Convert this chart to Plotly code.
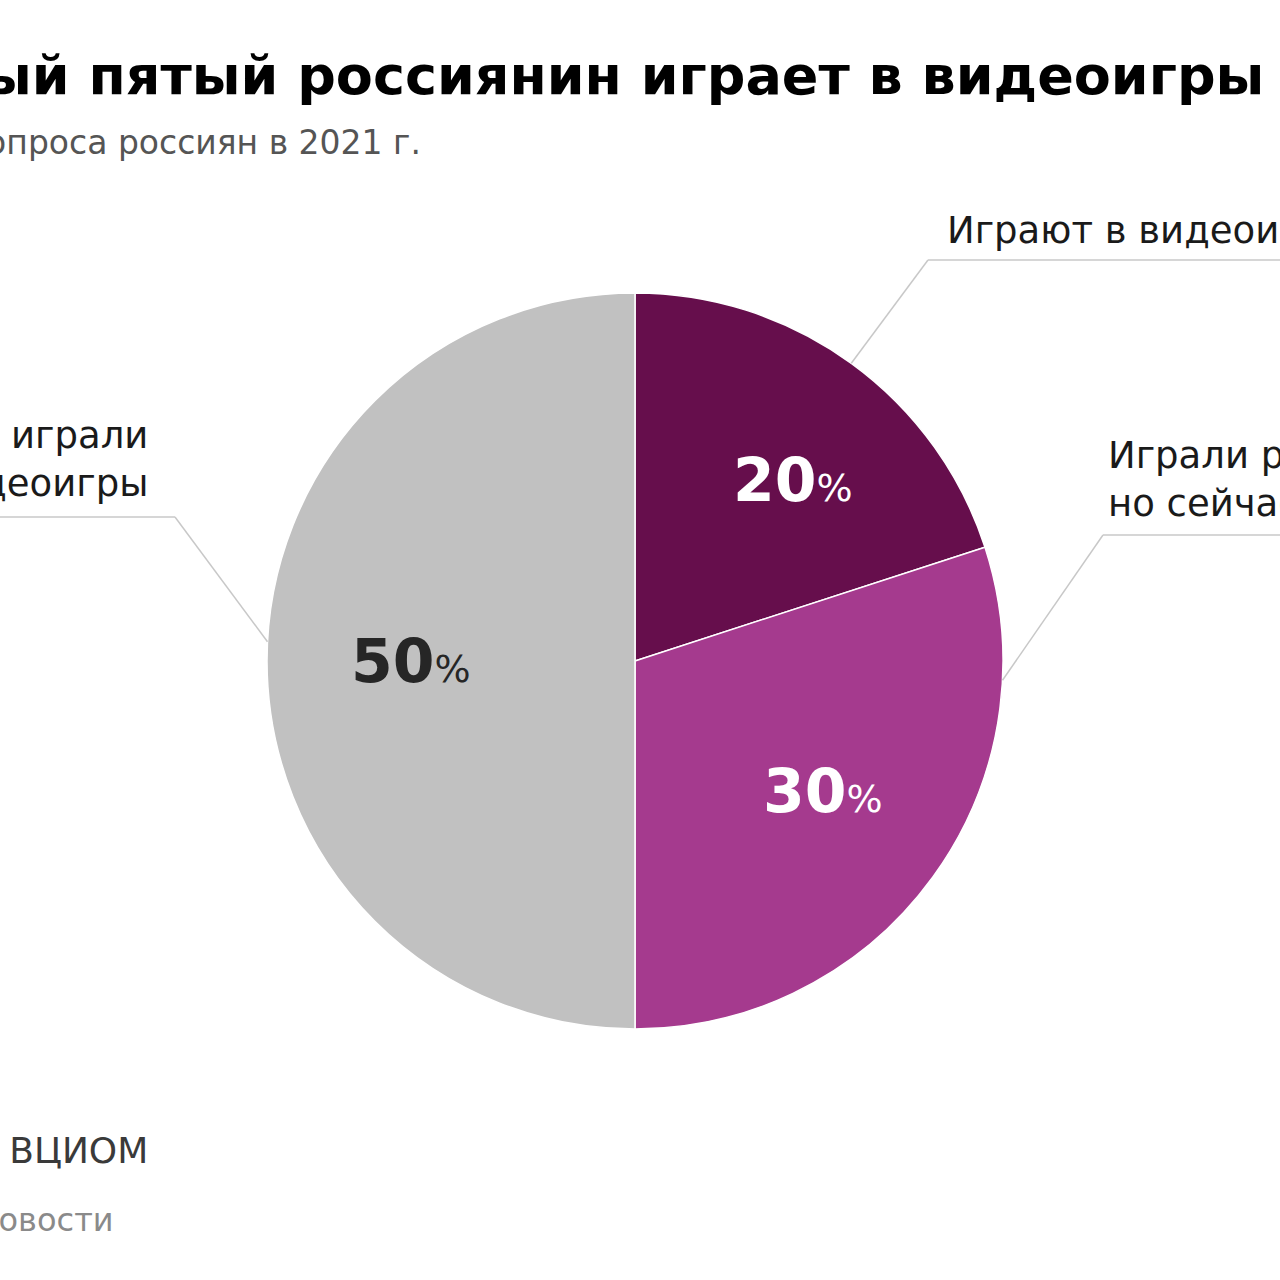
import math
import plotly.graph_objects as go

# data
labels = ["Играют в видеоигры", "Играли раньше, но сейчас не играют", "Никогда не играли в видеоигры"]
values = [20, 30, 50]
colors = ["#660e4c", "#a53a8e", "#c1c1c1"]
pct_colors = ["#ffffff", "#ffffff", "#262626"]

W = H = 1280
FONT = "DejaVu Sans"

# pie geometry in pixels
cx, cy, R = 635, 661, 368


def px(x):
    return x / W


def py(y):
    return 1 - y / H


def on_circle(angle_deg, frac):
    a = math.radians(angle_deg)
    return cx + R * frac * math.sin(a), cy - R * frac * math.cos(a)


fig = go.Figure(go.Pie(
    labels=labels, values=values, sort=False, direction="clockwise", rotation=0,
    marker=dict(colors=colors, line=dict(color="white", width=1.5)),
    textinfo="none", hoverinfo="label+percent", showlegend=False,
    domain=dict(x=[px(cx - R), px(cx + R)], y=[py(cy + R), py(cy - R)]),
))

ann = []

# percent labels at slice middles
total = sum(values)
start = 0
label_frac = [0.645, 0.63, 0.61]
label_dx = [18, 0, 0]
label_dy = [11, -6, 0]
for v, c, f, dx, dy in zip(values, pct_colors, label_frac, label_dx, label_dy):
    mid = (start + v / 2) / total * 360
    start += v
    x, y = on_circle(mid, f)
    ann.append(dict(
        x=px(x + dx), y=py(y + dy), xref="paper", yref="paper", showarrow=False,
        text=f"<b>{v}</b><span style='font-size:38px'>%</span>",
        font=dict(family=FONT, size=60, color=c), xanchor="center", yanchor="middle",
    ))

# outside labels with leader lines
lc = "#c8c8c8"
shapes = []
leaders = [
    # edge angle, elbow, end x
    (36, (928, 260), W + 20),
    (93, (1103, 535), W + 20),
    (273, (175, 517), -20),
]
for ang, (ex, ey), endx in leaders:
    sx, sy = on_circle(ang, 1.0)
    shapes.append(dict(type="line", xref="paper", yref="paper",
                       x0=px(sx), y0=py(sy), x1=px(ex), y1=py(ey),
                       line=dict(color=lc, width=1.5)))
    shapes.append(dict(type="line", xref="paper", yref="paper",
                       x0=px(ex), y0=py(ey), x1=px(endx), y1=py(ey),
                       line=dict(color=lc, width=1.5)))

ann.append(dict(x=px(945), y=py(230), xref="paper", yref="paper", showarrow=False,
                text="Играют в видеоигры", xanchor="left", yanchor="middle",
                font=dict(family=FONT, size=37, color="#1a1a1a")))
ann.append(dict(x=px(1106), y=py(479), xref="paper", yref="paper", showarrow=False,
                text="Играли раньше,<br>но сейчас не играют", xanchor="left", yanchor="middle", align="left",
                font=dict(family=FONT, size=37, color="#1a1a1a")))
ann.append(dict(x=px(150), y=py(459), xref="paper", yref="paper", showarrow=False,
                text="Никогда не играли<br>в видеоигры", xanchor="right", yanchor="middle", align="right",
                font=dict(family=FONT, size=37, color="#1a1a1a")))

# title, subtitle, source
ann.append(dict(x=px(1266), y=py(75), xref="paper", yref="paper", showarrow=False,
                text="<b>Каждый пятый россиянин играет в видеоигры</b>", xanchor="right", yanchor="middle",
                font=dict(family=FONT, size=54, color="#000000")))
ann.append(dict(x=px(423), y=py(143), xref="paper", yref="paper", showarrow=False,
                text="По данным опроса россиян в 2021 г.", xanchor="right", yanchor="middle",
                font=dict(family=FONT, size=33, color="#555555")))
ann.append(dict(x=px(150), y=py(1150), xref="paper", yref="paper", showarrow=False,
                text="Источник: ВЦИОМ", xanchor="right", yanchor="middle",
                font=dict(family=FONT, size=36, color="#3a3a3a")))
ann.append(dict(x=px(116), y=py(1220), xref="paper", yref="paper", showarrow=False,
                text="© РИА Новости", xanchor="right", yanchor="middle",
                font=dict(family=FONT, size=32, color="#8a8a8a")))

fig.update_layout(
    width=W, height=H, margin=dict(l=0, r=0, t=0, b=0),
    paper_bgcolor="white", plot_bgcolor="white",
    annotations=ann, shapes=shapes,
)

# drop the browser's default body margin so the figure fills the window
fig.write_html("out.html", config={"displayModeBar": False},
               post_script="document.body.style.margin='0px';")
